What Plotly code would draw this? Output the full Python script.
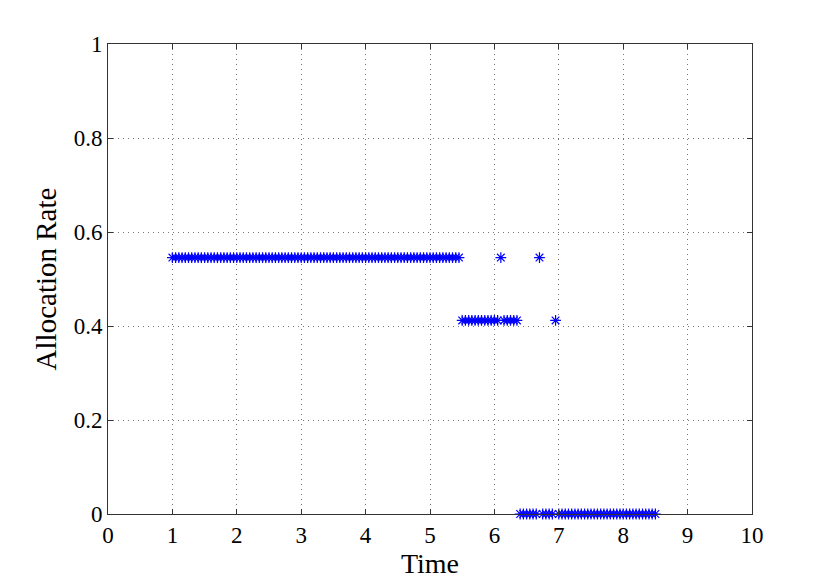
import plotly.graph_objects as go

hi = 0.5455
mid = 0.4118
lo = 0.0

time = [
    1.00, 1.05, 1.10, 1.15, 1.20, 1.25, 1.30, 1.35, 1.40, 1.45,
    1.50, 1.55, 1.60, 1.65, 1.70, 1.75, 1.80, 1.85, 1.90, 1.95,
    2.00, 2.05, 2.10, 2.15, 2.20, 2.25, 2.30, 2.35, 2.40, 2.45,
    2.50, 2.55, 2.60, 2.65, 2.70, 2.75, 2.80, 2.85, 2.90, 2.95,
    3.00, 3.05, 3.10, 3.15, 3.20, 3.25, 3.30, 3.35, 3.40, 3.45,
    3.50, 3.55, 3.60, 3.65, 3.70, 3.75, 3.80, 3.85, 3.90, 3.95,
    4.00, 4.05, 4.10, 4.15, 4.20, 4.25, 4.30, 4.35, 4.40, 4.45,
    4.50, 4.55, 4.60, 4.65, 4.70, 4.75, 4.80, 4.85, 4.90, 4.95,
    5.00, 5.05, 5.10, 5.15, 5.20, 5.25, 5.30, 5.35, 5.40, 5.45,
    5.50, 5.55, 5.60, 5.65, 5.70, 5.75, 5.80, 5.85, 5.90, 5.95,
    6.00, 6.05, 6.10, 6.15, 6.20, 6.25, 6.30, 6.35, 6.40, 6.45,
    6.50, 6.55, 6.60, 6.65, 6.70, 6.75, 6.80, 6.85, 6.90, 6.95,
    7.00, 7.05, 7.10, 7.15, 7.20, 7.25, 7.30, 7.35, 7.40, 7.45,
    7.50, 7.55, 7.60, 7.65, 7.70, 7.75, 7.80, 7.85, 7.90, 7.95,
    8.00, 8.05, 8.10, 8.15, 8.20, 8.25, 8.30, 8.35, 8.40, 8.45,
    8.50,
]

rate = [
    hi, hi, hi, hi, hi, hi, hi, hi, hi, hi,
    hi, hi, hi, hi, hi, hi, hi, hi, hi, hi,
    hi, hi, hi, hi, hi, hi, hi, hi, hi, hi,
    hi, hi, hi, hi, hi, hi, hi, hi, hi, hi,
    hi, hi, hi, hi, hi, hi, hi, hi, hi, hi,
    hi, hi, hi, hi, hi, hi, hi, hi, hi, hi,
    hi, hi, hi, hi, hi, hi, hi, hi, hi, hi,
    hi, hi, hi, hi, hi, hi, hi, hi, hi, hi,
    hi, hi, hi, hi, hi, hi, hi, hi, hi, hi,
    mid, mid, mid, mid, mid, mid, mid, mid, mid, mid,
    mid, mid, hi, mid, mid, mid, mid, mid, lo, lo,
    lo, lo, lo, lo, hi, lo, lo, lo, lo, mid,
    lo, lo, lo, lo, lo, lo, lo, lo, lo, lo,
    lo, lo, lo, lo, lo, lo, lo, lo, lo, lo,
    lo, lo, lo, lo, lo, lo, lo, lo, lo, lo,
    lo,
]

x_ticks = [0, 1, 2, 3, 4, 5, 6, 7, 8, 9, 10]
y_ticks = [0, 0.2, 0.4, 0.6, 0.8, 1]
y_tick_labels = ["0", "0.2", "0.4", "0.6", "0.8", "1"]

fig = go.Figure()
fig.add_trace(go.Scatter(
    x=time, y=rate, mode="markers",
    marker=dict(symbol="asterisk-open", size=9, color="#0000ff",
                line=dict(color="#0000ff", width=1.2)),
    cliponaxis=False, showlegend=False,
))

axis_common = dict(
    showline=True, linecolor="#333333", linewidth=1, mirror="ticks",
    ticks="inside", ticklen=5, tickcolor="#333333",
    showgrid=True, gridcolor="#777777", griddash="1px,4px", gridwidth=1,
    zeroline=False,
    tickfont=dict(family="Liberation Serif", size=23, color="black"),
)

fig.update_xaxes(range=[0, 10], tickvals=x_ticks, **axis_common,
                 title=dict(text="Time", standoff=2,
                            font=dict(family="Liberation Serif", size=28, color="black")))
fig.update_yaxes(range=[0, 1], tickvals=y_ticks, ticktext=y_tick_labels, **axis_common,
                 title=dict(text="Allocation Rate", standoff=8,
                            font=dict(family="Liberation Serif", size=29, color="black")))

fig.update_layout(
    width=830, height=581,
    margin=dict(l=108, r=78, t=44, b=64),
    paper_bgcolor="white", plot_bgcolor="white",
)

fig.write_html("out.html", config={"displayModeBar": False})

with open("out.html", "r", encoding="utf-8") as f:
    html = f.read()
html = html.replace("<head>", "<head><style>html,body{margin:0;padding:0;overflow:hidden}</style>", 1)
with open("out.html", "w", encoding="utf-8") as f:
    f.write(html)
